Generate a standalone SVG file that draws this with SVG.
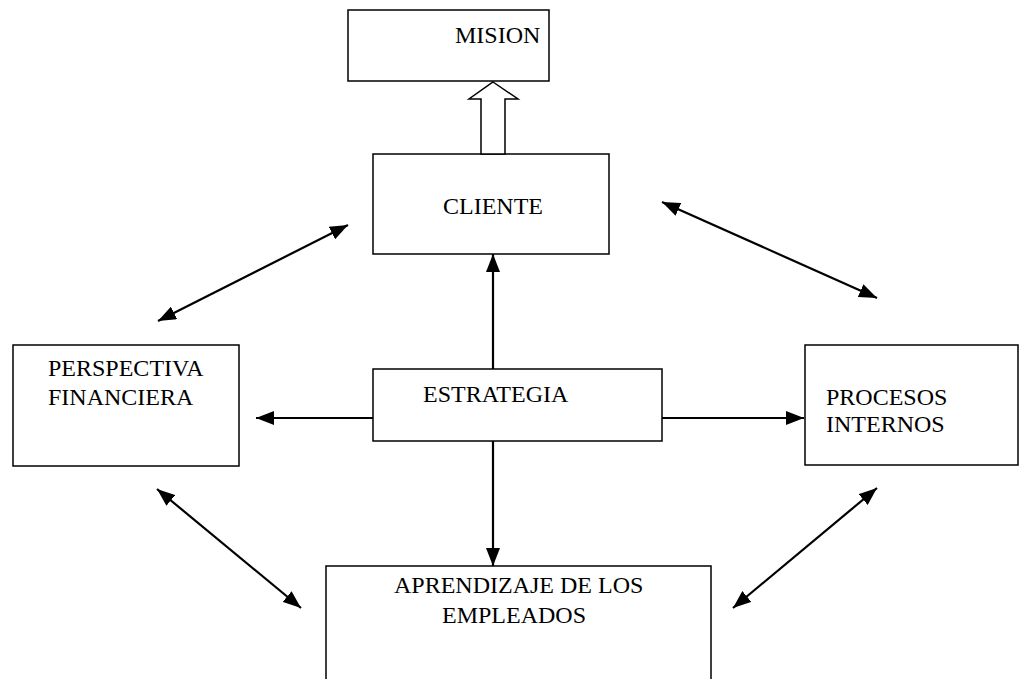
<svg xmlns="http://www.w3.org/2000/svg" width="1019" height="679" viewBox="0 0 1019 679">
<style>
.box{fill:#fff;stroke:#000;stroke-width:1.5}
.lbl{font-family:"Liberation Serif","Times New Roman",serif;font-size:24px;fill:#000}
.con{stroke:#000;stroke-width:2.2;fill:none}
</style>
<defs>
<marker id="ah" viewBox="0 0 18 14" refX="18" refY="7" markerWidth="18" markerHeight="14" markerUnits="userSpaceOnUse" orient="auto-start-reverse">
<path d="M0,0 L18,7 L0,14 Z" fill="#000"/>
</marker>
</defs>
<rect width="1019" height="679" fill="#fff"/>
<g id="mision"><rect class="box" x="348" y="10" width="201" height="71"/><text class="lbl" x="455" y="43">MISION</text></g>
<g id="cliente"><rect class="box" x="373" y="154" width="236" height="100"/><text class="lbl" x="443" y="214">CLIENTE</text></g>
<g id="estrategia"><rect class="box" x="373" y="369" width="289" height="72"/><text class="lbl" x="423" y="402">ESTRATEGIA</text></g>
<g id="perspectiva"><rect class="box" x="13" y="345" width="226" height="121"/><text class="lbl" x="48" y="376">PERSPECTIVA</text><text class="lbl" x="48" y="405">FINANCIERA</text></g>
<g id="procesos"><rect class="box" x="805" y="345" width="213" height="120"/><text class="lbl" x="826" y="405">PROCESOS</text><text class="lbl" x="826" y="432">INTERNOS</text></g>
<g id="aprendizaje"><rect class="box" x="326" y="566" width="385" height="130"/><text class="lbl" x="394" y="593">APRENDIZAJE DE LOS</text><text class="lbl" x="442" y="623">EMPLEADOS</text></g>
<g id="connectors">
<path d="M493,82 L518,99 L505,99 L505,154 L481,154 L481,99 L469,99 Z" fill="#fff" stroke="#000" stroke-width="1.5"/>
<line class="con" x1="493" y1="369" x2="493" y2="254" marker-end="url(#ah)"/>
<line class="con" x1="493" y1="441" x2="493" y2="566" marker-end="url(#ah)"/>
<line class="con" x1="373" y1="418" x2="256" y2="418" marker-end="url(#ah)"/>
<line class="con" x1="662" y1="418" x2="804" y2="418" marker-end="url(#ah)"/>
<line class="con" x1="158" y1="321" x2="348" y2="225" marker-start="url(#ah)" marker-end="url(#ah)"/>
<line class="con" x1="662" y1="202" x2="877" y2="298" marker-start="url(#ah)" marker-end="url(#ah)"/>
<line class="con" x1="157" y1="489" x2="301" y2="608" marker-start="url(#ah)" marker-end="url(#ah)"/>
<line class="con" x1="877" y1="488" x2="733" y2="608" marker-start="url(#ah)" marker-end="url(#ah)"/>
</g>
</svg>
